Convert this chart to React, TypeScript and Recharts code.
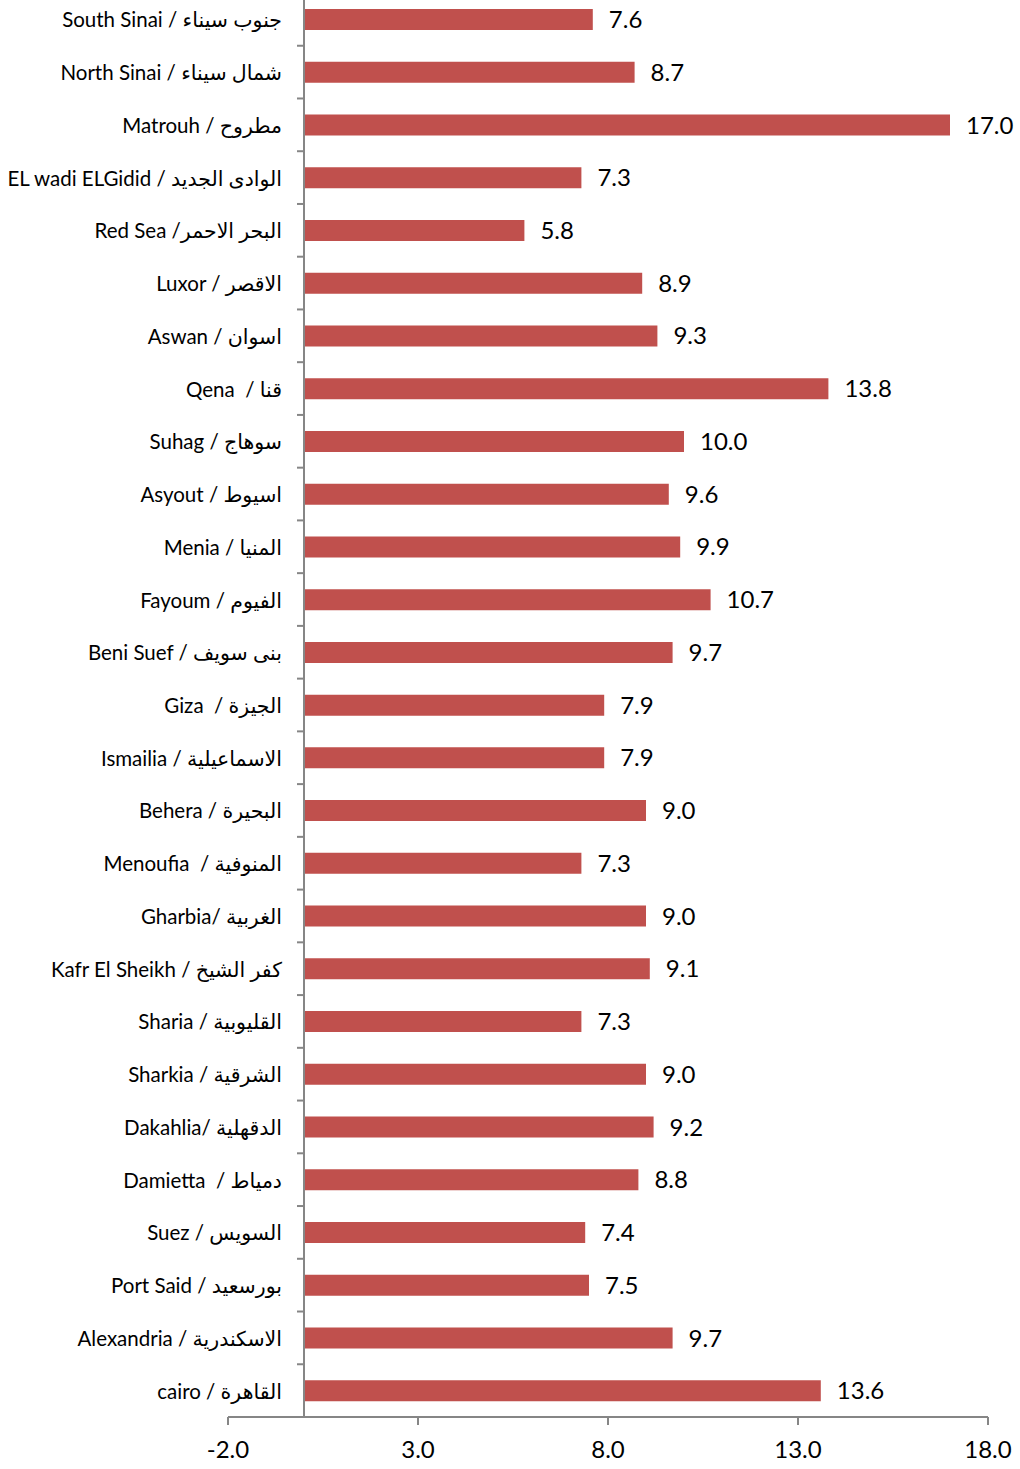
import React from "react";
import { BarChart, Bar, XAxis, YAxis, ReferenceLine, LabelList } from "recharts";

const CATEGORIES = [
  "South Sinai / جنوب سيناء",
  "North Sinai / شمال سيناء",
  "Matrouh / مطروح",
  "EL wadi ELGidid / الوادى الجديد",
  "Red Sea /البحر الاحمر",
  "Luxor / الاقصر",
  "Aswan / اسوان",
  "Qena  / قنا",
  "Suhag / سوهاج",
  "Asyout / اسيوط",
  "Menia / المنيا",
  "Fayoum / الفيوم",
  "Beni Suef / بنى سويف",
  "Giza  / الجيزة",
  "Ismailia / الاسماعيلية",
  "Behera / البحيرة",
  "Menoufia  / المنوفية",
  "Gharbia/ الغربية",
  "Kafr El Sheikh / كفر الشيخ",
  "Sharia / القليوبية",
  "Sharkia / الشرقية",
  "Dakahlia/ الدقهلية",
  "Damietta  / دمياط",
  "Suez / السويس",
  "Port Said / بورسعيد",
  "Alexandria / الاسكندرية",
  "cairo / القاهرة",
];

const VALUES = [
  7.6, 8.7, 17.0, 7.3, 5.8, 8.9, 9.3, 13.8, 10.0, 9.6, 9.9, 10.7, 9.7, 7.9,
  7.9, 9.0, 7.3, 9.0, 9.1, 7.3, 9.0, 9.2, 8.8, 7.4, 7.5, 9.7, 13.6,
];

const X_TICKS = [-2, 3, 8, 13, 18];
const X_DOMAIN: [number, number] = [-2, 18];

const data = CATEGORIES.map((name, i) => ({ name, value: VALUES[i] }));

const WIDTH = 1020;
const HEIGHT = 1476;
const LEFT = 228;
const RIGHT = 32;
const XAXIS_H = 52;
const PLOT_W = WIDTH - LEFT - RIGHT;
const PLOT_H = HEIGHT - XAXIS_H;
const BAND = PLOT_H / CATEGORIES.length;
const AXIS_X = LEFT + ((0 - X_DOMAIN[0]) / (X_DOMAIN[1] - X_DOMAIN[0])) * PLOT_W;
const GRAY = "#868686";
const FONT = "Lato, 'DejaVu Sans', sans-serif";

const CatTick = (props: any) => {
  const { y, payload } = props;
  return (
    <g>
      <line x1={AXIS_X - 7} x2={AXIS_X} y1={y - BAND / 2} y2={y - BAND / 2} stroke={GRAY} strokeWidth={2} />
      <text
        x={AXIS_X - 22}
        y={y}
        textAnchor="end"
        dominantBaseline="central"
        fontSize={20.5}
        fill="#000"
        fontFamily={FONT}
        style={{ whiteSpace: "pre" }}
      >
        {payload.value}
      </text>
    </g>
  );
};

export default function App() {
  return (
    <div style={{ position: "absolute", left: 0, top: -7, fontFamily: FONT }}>
      <BarChart
        width={WIDTH}
        height={HEIGHT}
        data={data}
        layout="vertical"
        margin={{ top: 0, right: RIGHT, bottom: 0, left: 0 }}
      >
        <XAxis
          type="number"
          domain={X_DOMAIN}
          ticks={X_TICKS}
          allowDataOverflow
          interval={0}
          tickFormatter={(v: number) => v.toFixed(1)}
          axisLine={{ stroke: GRAY, strokeWidth: 2 }}
          tickLine={{ stroke: GRAY, strokeWidth: 2 }}
          tickSize={8}
          tickMargin={16}
          height={XAXIS_H}
          tick={{ fontSize: 24, fill: "#000", fontFamily: FONT }}
        />
        <YAxis
          type="category"
          dataKey="name"
          width={LEFT}
          axisLine={false}
          tickLine={false}
          interval={0}
          tick={<CatTick />}
        />
        <Bar dataKey="value" fill="#C0504D" barSize={21} isAnimationActive={false}>
          <LabelList
            dataKey="value"
            position="right"
            offset={16}
            formatter={(v: any) => Number(v).toFixed(1)}
            fontSize={24}
            fill="#000"
            fontFamily={FONT}
          />
        </Bar>
        <ReferenceLine x={0} stroke={GRAY} strokeWidth={2} />
      </BarChart>
    </div>
  );
}
